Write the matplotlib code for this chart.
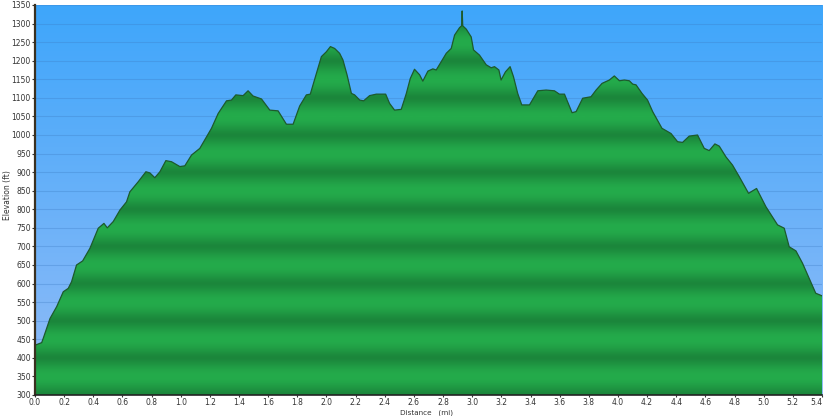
import numpy as np
import matplotlib
matplotlib.use("Agg")
import matplotlib.pyplot as plt
from matplotlib.colors import LinearSegmentedColormap

# elevation profile
distance_mi = [0.0, 0.007, 0.046, 0.057, 0.103, 0.149, 0.194, 0.228, 0.251, 0.285, 0.327,
               0.377, 0.434, 0.473, 0.496, 0.537, 0.583, 0.628, 0.651, 0.708, 0.761,
               0.788, 0.822, 0.857, 0.898, 0.937, 0.994, 1.028, 1.074, 1.131, 1.165,
               1.211, 1.257, 1.314, 1.348, 1.378, 1.428, 1.462, 1.496, 1.554, 1.611,
               1.668, 1.725, 1.771, 1.816, 1.862, 1.889, 1.931, 1.965, 1.999, 2.027,
               2.056, 2.09, 2.113, 2.141, 2.171, 2.193, 2.228, 2.255, 2.296, 2.342,
               2.406, 2.433, 2.467, 2.513, 2.548, 2.575, 2.604, 2.639, 2.661, 2.696,
               2.730, 2.753, 2.787, 2.822, 2.856, 2.879, 2.913, 2.927, 2.931, 2.935,
               2.959, 2.993, 3.009, 3.050, 3.096, 3.130, 3.153, 3.183, 3.198, 3.228,
               3.260, 3.283, 3.312, 3.340, 3.393, 3.450, 3.507, 3.564, 3.598, 3.633,
               3.685, 3.713, 3.758, 3.815, 3.850, 3.891, 3.941, 3.975, 4.010, 4.044,
               4.078, 4.101, 4.124, 4.165, 4.203, 4.238, 4.302, 4.364, 4.409, 4.443,
               4.489, 4.546, 4.592, 4.626, 4.665, 4.695, 4.741, 4.786, 4.832, 4.896,
               4.951, 5.015, 5.095, 5.141, 5.175, 5.221, 5.266, 5.357, 5.40]
elevation_ft = [435, 435, 441, 453, 506, 538, 578, 587, 605, 650, 661,
                695, 749, 762, 750, 767, 798, 820, 847, 874, 901,
                898, 885, 901, 931, 928, 915, 917, 946, 964, 987,
                1018, 1058, 1092, 1094, 1108, 1106, 1119, 1105, 1097, 1067,
                1065, 1029, 1029, 1078, 1108, 1110, 1166, 1211, 1224, 1238,
                1233, 1220, 1202, 1162, 1112, 1108, 1094, 1092, 1106, 1110,
                1110, 1085, 1067, 1069, 1112, 1152, 1177, 1162, 1145, 1172,
                1178, 1175, 1197, 1220, 1233, 1269, 1289, 1294, 1334, 1294,
                1285, 1264, 1229, 1215, 1189, 1181, 1184, 1175, 1148, 1170,
                1184, 1157, 1112, 1081, 1081, 1119, 1121, 1119, 1110, 1110,
                1060, 1063, 1099, 1103, 1121, 1139, 1148, 1159, 1146, 1148,
                1146, 1137, 1135, 1112, 1094, 1063, 1018, 1004, 982, 980,
                997, 1000, 964, 958, 976, 970, 941, 919, 888, 843,
                856, 807, 758, 749, 699, 688, 655, 574, 567]

x_ticks = [0.0, 0.2, 0.4, 0.6, 0.8, 1.0, 1.2, 1.4, 1.6, 1.8, 2.0, 2.2, 2.4, 2.6,
           2.8, 3.0, 3.2, 3.4, 3.6, 3.8, 4.0, 4.2, 4.4, 4.6, 4.8, 5.0, 5.2, 5.4]
y_ticks = list(range(300, 1351, 50))

x_min, x_max = 0.0, 5.4
y_min, y_max = 300, 1350

fig = plt.figure(figsize=(8.25, 4.16), dpi=100)
ax = fig.add_axes([35 / 825, 21 / 416, 787 / 825, 390 / 416])

# sky gradient
sky = LinearSegmentedColormap.from_list("sky", ["#93bcf7", "#3ea6fb"])
ax.imshow(np.linspace(0, 1, 256)[::-1].reshape(-1, 1), cmap=sky, aspect="auto",
          extent=[x_min, x_max, y_min, y_max], zorder=0, interpolation="bilinear")

for y in y_ticks:
    ax.axhline(y, color="#3a78c0", alpha=0.3, lw=0.8, zorder=1)

# banded green ground, clipped to the profile
elev = np.linspace(y_max, y_min, 1200)
bands = (0.5 + 0.5 * np.cos(2 * np.pi * (elev - 50) / 100)) ** 0.7
green = LinearSegmentedColormap.from_list("ground", ["#1b863b", "#24ab4b"])
poly = ax.fill_between(distance_mi, elevation_ft, y_min, facecolor="none",
                       edgecolor="none", zorder=2)
img = ax.imshow(bands.reshape(-1, 1), cmap=green, aspect="auto",
                extent=[x_min, x_max, y_min, y_max], zorder=2,
                interpolation="bilinear")
img.set_clip_path(poly.get_paths()[0], transform=ax.transData)
ax.plot(distance_mi, elevation_ft, color="#1d5a2c", lw=0.9, zorder=3)

ax.set_xlim(x_min, x_max)
ax.set_ylim(y_min, y_max)
ax.set_xticks(x_ticks)
ax.set_xticklabels([f"{t:.1f}" for t in x_ticks])
ax.set_yticks(y_ticks)
ax.set_yticklabels([str(t) for t in y_ticks])
ax.tick_params(labelsize=5.5, colors="#333333", length=2, width=0.8, pad=1)
ax.tick_params(axis="x", length=1.5, pad=0.5)
ax.get_xticklabels()[-1].set_horizontalalignment("right")

for side in ["top", "right"]:
    ax.spines[side].set_visible(False)
ax.spines["left"].set_color("#3a3020")
ax.spines["left"].set_linewidth(1.6)
ax.spines["bottom"].set_color("#222222")
ax.spines["bottom"].set_linewidth(1.2)
ax.spines["left"].set_zorder(5)
ax.spines["bottom"].set_zorder(5)

fig.text(8 / 825, 1 - 195 / 416, "Elevation (ft)", rotation=90, fontsize=5.5,
         color="#333333", ha="center", va="center")
fig.text(427 / 825, 0.5 / 416, "Distance   (mi)", fontsize=5.2,
         color="#333333", ha="center", va="bottom")

fig.savefig("out.png", dpi=100)
